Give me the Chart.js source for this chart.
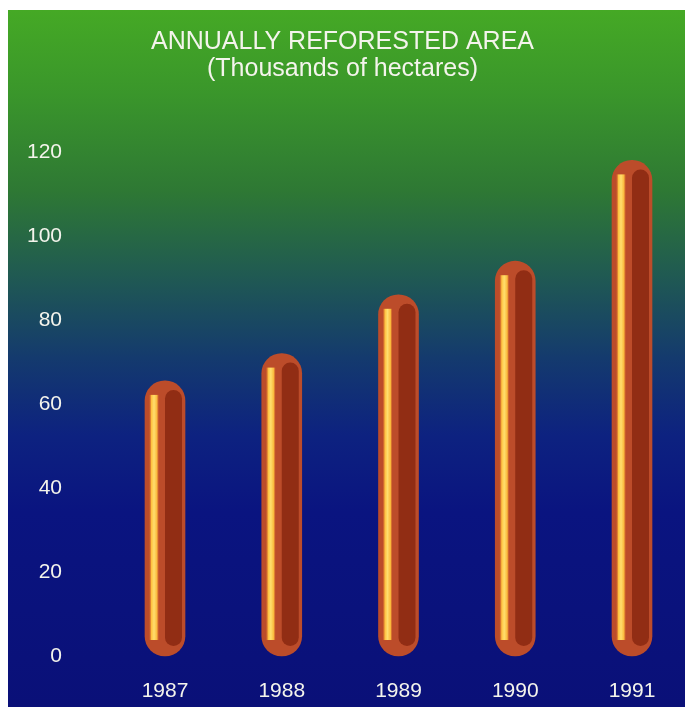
<!DOCTYPE html>
<html>
<head>
<meta charset="utf-8">
<script src="https://cdn.jsdelivr.net/npm/chart.js@4.4.1/dist/chart.umd.min.js"></script>
<style>
    html, body { margin: 0; padding: 0; background: #ffffff; overflow: hidden; }
    #fond {
        position: absolute; left: 8px; top: 10px; width: 677px; height: 697px;
        background: linear-gradient(to bottom,
            #45a925 0%, #3a962b 12%, #2e7834 26%, #205a52 38%,
            #143a6e 50%, #0d2280 61%, #0a1480 72%, #0a1078 100%);
    }
    #graph { position: absolute; left: 0; top: 0; }
</style>
</head>
<body>
<div id="fond"></div>
<canvas id="graph" width="685" height="707"></canvas>
<script>
// Données
const annees = ["1987", "1988", "1989", "1990", "1991"];
const surfaces = [65.5, 72, 86, 94, 118];
const graduations = [0, 20, 40, 60, 80, 100, 120];

const couleurTexte = "#f4f4ec";
const police = "'Liberation Sans', Arial, sans-serif";

// Dessine l'intérieur sombre et le reflet jaune de chaque barre
const decorBarres = {
    id: "decorBarres",
    afterDatasetsDraw(chart) {
        const ctx = chart.ctx;
        chart.getDatasetMeta(0).data.forEach((bar) => {
            const { x, y, base, width } = bar.getProps(["x", "y", "base", "width"], true);
            const gauche = x - width / 2;
            const droite = x + width / 2;

            // partie sombre à droite
            const dl = x, dr = droite - 3, dt = y + 9, db = base - 10;
            const r = (dr - dl) / 2;
            ctx.save();
            ctx.fillStyle = "rgb(145, 45, 20)";
            ctx.beginPath();
            ctx.moveTo(dl, dt + r);
            ctx.arc(dl + r, dt + r, r, Math.PI, 0);
            ctx.lineTo(dr, db - r);
            ctx.arc(dl + r, db - r, r, 0, Math.PI);
            ctx.closePath();
            ctx.fill();

            // reflet jaune à gauche
            const g = ctx.createLinearGradient(gauche + 4, 0, gauche + 14, 0);
            g.addColorStop(0, "rgba(230, 120, 40, 0)");
            g.addColorStop(0.25, "rgb(255, 195, 65)");
            g.addColorStop(0.5, "rgb(255, 222, 110)");
            g.addColorStop(0.8, "rgb(250, 185, 60)");
            g.addColorStop(1, "rgba(230, 120, 40, 0)");
            ctx.fillStyle = g;
            ctx.fillRect(gauche + 4, y + 14, 10, (base - 16) - (y + 14));
            ctx.restore();
        });
    }
};

new Chart(document.getElementById("graph"), {
    type: "bar",
    data: {
        labels: annees,
        datasets: [{
            data: surfaces,
            backgroundColor: "rgb(188, 76, 42)",
            borderWidth: 0,
            borderRadius: 20,
            borderSkipped: false,
            barThickness: 40,
            clip: false,
        }],
    },
    options: {
        responsive: false,
        animation: false,
        layout: { padding: 0 },
        plugins: {
            legend: { display: false },
            tooltip: { enabled: false },
            title: {
                display: true,
                text: "ANNUALLY REFORESTED AREA",
                color: couleurTexte,
                font: { family: police, size: 25, weight: "normal", lineHeight: 1.2 },
                padding: { top: 27, bottom: -2 },
            },
            subtitle: {
                display: true,
                text: "(Thousands of hectares)",
                color: couleurTexte,
                font: { family: police, size: 25, weight: "normal", lineHeight: 1.1 },
                padding: { top: 0, bottom: 69.5 },
            },
        },
        scales: {
            x: {
                offset: false,
                grid: { display: false, drawTicks: false },
                border: { display: false },
                ticks: { color: couleurTexte, font: { family: police, size: 21 }, padding: 23, maxRotation: 0 },
                afterFit: (s) => { s.height = 51; },
            },
            y: {
                min: 0,
                max: 120,
                grid: { display: false, drawTicks: false },
                border: { display: false },
                ticks: { color: couleurTexte, font: { family: police, size: 21 }, padding: 103 },
                afterBuildTicks: (s) => { s.ticks = graduations.map(v => ({ value: v })); },
                afterFit: (s) => {
                    s.width = 165;
                    s.paddingTop = 12;
                    s.paddingBottom = 12;
                },
            },
            y2: {
                type: "linear",
                position: "right",
                grid: { display: false, drawTicks: false },
                border: { display: false },
                ticks: { display: false },
                afterFit: (s) => { s.width = 53; },
            },
        },
    },
    plugins: [decorBarres],
});
</script>
</body>
</html>
